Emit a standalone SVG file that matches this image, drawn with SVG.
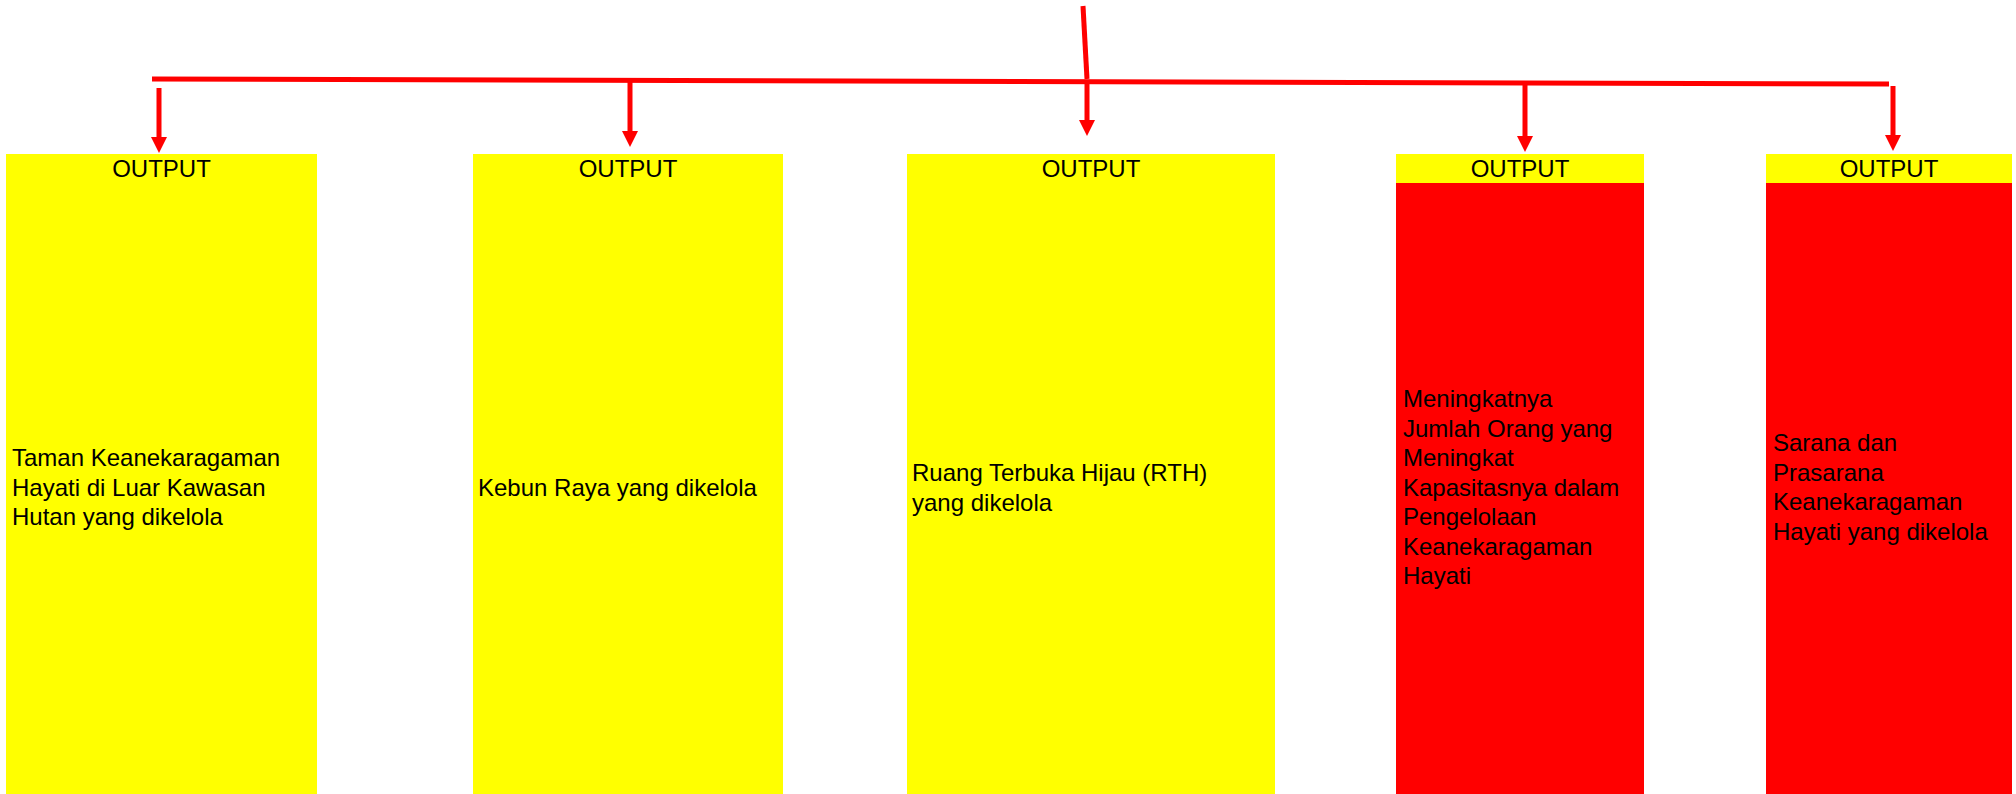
<svg xmlns="http://www.w3.org/2000/svg" width="2016" height="794" viewBox="0 0 2016 794">
<style>
  .y { fill: #FFFF00; }
  .r { fill: #FF0000; }
  .t { font-family: "Liberation Sans", Arial, sans-serif; font-size: 24px; fill: #000000; }
  .h { text-anchor: middle; }
  .c { stroke: #FF0000; stroke-width: 5; fill: none; }
  .a { marker-end: url(#ah); }
</style>
<defs>
  <marker id="ah" markerUnits="userSpaceOnUse" markerWidth="16" markerHeight="16" viewBox="0 0 16 16" refX="6" refY="8" orient="auto">
    <path d="M0,0 L16,8 L0,16 z" fill="#FF0000"/>
  </marker>
</defs>
<rect width="2016" height="794" fill="#FFFFFF"/>
<g id="connectors">
  <line class="c" x1="1083" y1="6" x2="1087" y2="79"/>
  <line class="c" x1="152" y1="79" x2="1889" y2="84"/>
  <line class="c a" x1="159" y1="88" x2="159" y2="143"/>
  <line class="c a" x1="630" y1="80" x2="630" y2="137"/>
  <line class="c a" x1="1087" y1="81" x2="1087" y2="126"/>
  <line class="c a" x1="1525" y1="83" x2="1525" y2="142"/>
  <line class="c a" x1="1893" y1="86" x2="1893" y2="141"/>
</g>
<g id="node1">
  <rect class="y" x="6" y="154" width="311" height="640"/>
  <text class="t h" x="161.5" y="177">OUTPUT</text>
  <text class="t" x="12"><tspan x="12" y="466">Taman Keanekaragaman</tspan><tspan x="12" y="495.5">Hayati di Luar Kawasan</tspan><tspan x="12" y="525">Hutan yang dikelola</tspan></text>
</g>
<g id="node2">
  <rect class="y" x="473" y="154" width="310" height="640"/>
  <text class="t h" x="628" y="177">OUTPUT</text>
  <text class="t" x="478" y="495.5">Kebun Raya yang dikelola</text>
</g>
<g id="node3">
  <rect class="y" x="907" y="154" width="368" height="640"/>
  <text class="t h" x="1091" y="177">OUTPUT</text>
  <text class="t"><tspan x="912" y="481">Ruang Terbuka Hijau (RTH)</tspan><tspan x="912" y="510.5">yang dikelola</tspan></text>
</g>
<g id="node4">
  <rect class="y" x="1396" y="154" width="248" height="29"/>
  <rect class="r" x="1396" y="183" width="248" height="611"/>
  <text class="t h" x="1520" y="177">OUTPUT</text>
  <text class="t"><tspan x="1403" y="407">Meningkatnya</tspan><tspan x="1403" y="436.5">Jumlah Orang yang</tspan><tspan x="1403" y="466">Meningkat</tspan><tspan x="1403" y="495.5">Kapasitasnya dalam</tspan><tspan x="1403" y="525">Pengelolaan</tspan><tspan x="1403" y="554.5">Keanekaragaman</tspan><tspan x="1403" y="584">Hayati</tspan></text>
</g>
<g id="node5">
  <rect class="y" x="1766" y="154" width="246" height="29"/>
  <rect class="r" x="1766" y="183" width="246" height="611"/>
  <text class="t h" x="1889" y="177">OUTPUT</text>
  <text class="t"><tspan x="1773" y="451">Sarana dan</tspan><tspan x="1773" y="480.5">Prasarana</tspan><tspan x="1773" y="510">Keanekaragaman</tspan><tspan x="1773" y="539.5">Hayati yang dikelola</tspan></text>
</g>
</svg>
